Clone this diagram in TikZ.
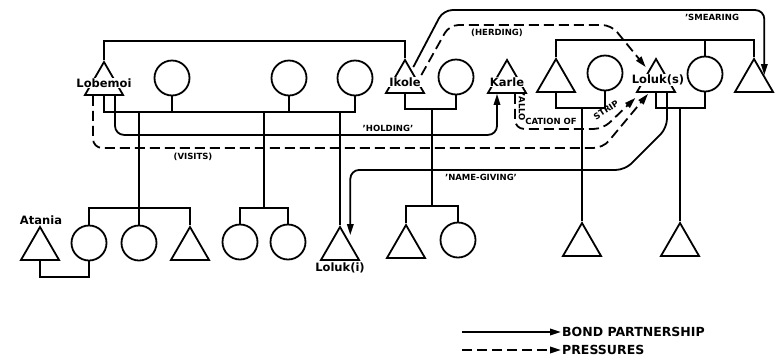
\documentclass[tikz,border=0pt]{standalone}
\usepackage{fontspec}
\setmainfont{DejaVu Sans}
\usetikzlibrary{arrows.meta, positioning, shapes.geometric, calc}
\newcommand\prsfont{\fontsize{8.5}{9}\selectfont\bfseries}

\begin{document}
\begin{tikzpicture}[x=1pt, y=-1pt,
  cir/.style={circle, draw, line width=1.8pt, minimum size=35pt, inner sep=0pt},
  tri/.style={regular polygon, regular polygon sides=3, draw, line width=1.8pt, minimum size=44pt, inner sep=0pt},
  kin/.style={line width=1.8pt},
  bond/.style={line width=1.8pt, rounded corners=9pt, -{Triangle[length=11pt, width=6.5pt]}},
  press/.style={bond, dash pattern=on 10pt off 5pt},
  who/.style={fill=white, inner sep=1pt, font=\fontsize{11.5}{12}\selectfont\bfseries},
  tag/.style={font=\prsfont, inner sep=1pt},
  key/.style={anchor=west, inner sep=1pt, font=\fontsize{12.5}{13}\selectfont\bfseries}]
  \useasboundingbox (0,0) rectangle (776,357);
  % upper generation
  \node[tri] (lob) at (104,84) {};
  \node[cir] (w1) at (172,78) {};
  \node[cir] (w2) at (289,78) {};
  \node[cir] (w3) at (355,78) {};
  \node[tri] (iko) at (405,82) {};
  \node[cir] (w4) at (456,77) {};
  \node[tri] (kar) at (507,82) {};
  \node[tri] (t1) at (556,81) {};
  \node[cir] (w5) at (605,73) {};
  \node[tri] (lols) at (656,81) {};
  \node[cir] (w6) at (705,74) {};
  \node[tri] (t3) at (754,81) {};
  % lower generation
  \node[tri] (ata) at (40,249) {};
  \node[cir] (b1) at (89,243) {};
  \node[cir] (b2) at (139,243) {};
  \node[tri] (b3) at (190,249) {};
  \node[cir] (b4) at (240,242) {};
  \node[cir] (b5) at (288,242) {};
  \node[tri] (loli) at (340,249) {};
  \node[tri] (ikc) at (406,247) {};
  \node[cir] (ikd) at (458,240) {};
  \node[tri] (rt1) at (582,245) {};
  \node[tri] (rt2) at (680,245) {};
  % names
  \node[who] (lobl) at (104,83) {Lobemoi};
  \node[who] (ikol) at (405,82) {Ikole};
  \node[who] (karl) at (507,82) {Karle};
  \node[who] (lolsl) at (658,80) {Loluk(s)};
  \node[who, fill=none] (atal) at (41,220) {Atania};
  \node[who, fill=none] (lolil) at (340,268) {Loluk(i)};
  % kin lines
  \draw[kin] (lob.corner 1) -- ++(0,-19) -| (iko.corner 1);
  \draw[kin] (lob.side 2) -- ++(0,16) coordinate (lm) -| (w3.south);
  \draw[kin] (w1.south) -- (w1.south |- lm);
  \draw[kin] (w2.south) -- (w2.south |- lm);
  \draw[kin] (iko.side 2) -- ++(0,15) coordinate (im) -| (w4.south);
  \draw[kin] (t1.corner 1) -- ++(0,-17) coordinate (rs) -| (t3.corner 1);
  \draw[kin] (w6.north) -- (w6.north |- rs);
  \draw[kin] (t1.side 2) -- ++(0,15) coordinate (rm) -| (w5.south);
  \draw[kin] (lols.side 2) -- ++(0,15) coordinate (sm) -| (w6.south);
  \draw[kin] (b1.north) -- ++(0,-17) coordinate (s1) -| (b3.corner 1);
  \draw[kin] (b2.north |- lm) -- (b2.north);
  \draw[kin] (b4.north) -- ++(0,-16) coordinate (s2) -| (b5.north);
  \coordinate (m2) at ($(s2)!.5!(s2 -| b5.north)$);
  \draw[kin] (m2 |- lm) -- (m2);
  \draw[kin] (loli.corner 1 |- lm) -- (loli.corner 1);
  \draw[kin] (ata.side 2) -- ++(0,16) -| (b1.south);
  \draw[kin] (ikc.corner 1) -- ++(0,-17) coordinate (s3) -| (ikd.north);
  \coordinate (m3) at ($(s3)!.5!(s3 -| ikd.north)$);
  \draw[kin] (m3 |- im) -- (m3);
  \draw[kin] (rt1.corner 1 |- rm) -- (rt1.corner 1);
  \draw[kin] (rt2.corner 1 |- sm) -- (rt2.corner 1);
  % bonds and pressures
  \draw[bond] ([xshift=11pt]lob.side 2) -- ++(0,39) -| ([xshift=-10pt]kar.side 2);
  \draw[press] ([xshift=-11pt]lob.side 2) -- ++(0,52) -- ++(510,0) -- ([xshift=-8pt,yshift=-1pt]lols.side 2);
  \draw[press] ([xshift=8pt]kar.side 2) -- ++(0,35) -- ++(88,0) -- ([yshift=-5pt]lols.corner 2);
  \draw[press] ([xshift=6pt,yshift=1pt]iko.side 3) -- ++(28,-50) -- ++(162,0) -- ([yshift=8pt]lols.side 1);
  \draw[bond] ([xshift=-2pt,yshift=9pt]iko.side 3) -- ++(30,-57) -| (t3.side 3);
  \draw[bond] ([xshift=11pt]lols.side 2) -- ++(0,35) -- ++(-42,42) -| ([yshift=8pt]loli.side 3);
  \node[tag] (herd) at (497,33) {(HERDING)};
  \node[tag] (smear) at (712,17) {'SMEARING};
  \node[tag] (hold) at (388,128) {'HOLDING'};
  \node[tag] (vis) at (193,157) {(VISITS)};
  \node[tag] (nam) at (481,177) {'NAME-GIVING'};
  \node[tag, rotate=-90] (alo1) at (522,107) {'ALLO};
  \node[tag] (alo2) at (551,121) {CATION OF};
  \node[tag, rotate=33, inner sep=0pt] (alo3) at (606,110) {STRIP};
  % key
  \node[key] (k1) at (561,332) {BOND PARTNERSHIP};
  \node[key] (k2) at (561,350) {PRESSURES};
  \coordinate (k1s) at (462,332);
  \coordinate (k2s) at (462,350);
  \draw[bond] (k1s) -- (k1);
  \draw[press] (k2s) -- (k2);
\end{tikzpicture}
\end{document}
